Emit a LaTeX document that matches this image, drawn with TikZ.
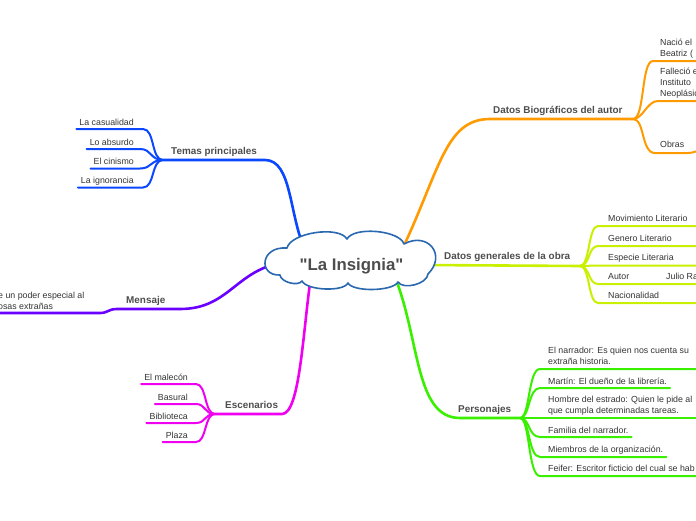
\documentclass[tikz,border=0pt]{standalone}
\usepackage{fontspec}
\setmainfont{Liberation Sans}
\definecolor{cBlue}{HTML}{0A47FF}
\definecolor{cPurple}{HTML}{6A00FF}
\definecolor{cMag}{HTML}{F000F0}
\definecolor{cOrange}{HTML}{FF9A00}
\definecolor{cYel}{HTML}{C8F000}
\definecolor{cGreen}{HTML}{38F000}
\definecolor{cCloud}{HTML}{2A68B0}
\definecolor{cTxt}{HTML}{333333}
\definecolor{cLbl}{HTML}{4D4D4D}
\tikzset{
  subtxt/.style={font=\fontsize{8.8}{10.6}\selectfont, text=cTxt, inner xsep=3pt, inner ysep=0pt, align=left},
  lbltxt/.style={font=\bfseries\fontsize{9.9}{12}\selectfont, text=cLbl, inner sep=0pt},
  mainline/.style={line width=2.6pt, line cap=round},
  subline/.style={line width=2pt, line cap=round},
  cloudline/.style={draw=cCloud, fill=white, line width=1.6pt, line join=round},
  titletxt/.style={font=\bfseries\fontsize{16.8}{20}\selectfont, text=cLbl, inner sep=0pt},
}
\begin{document}
\begin{tikzpicture}[x=1pt,y=-1pt]
\useasboundingbox (0,0) rectangle (696,520);
\clip (0,0) rectangle (696,520);

% anchor points inside the cloud
\coordinate (rB) at (305,250);
\coordinate (rP) at (280,263);
\coordinate (rM) at (311,276);
\coordinate (rO) at (401,252);
\coordinate (rY) at (425,265);
\coordinate (rG) at (395,277);

% ---------- Temas principales (blue)
\coordinate (J1) at (163,160);
\node[lbltxt, anchor=base west] (temas) at (171,154) {Temas principales};
\node[subtxt, anchor=base east] (cas) at (137,125) {La casualidad};
\node[subtxt, anchor=base east] (abs) at (137,145) {Lo absurdo};
\node[subtxt, anchor=base east] (cin) at (137,164.5) {El cinismo};
\node[subtxt, anchor=base east] (ign) at (137,183.5) {La ignorancia};
\coordinate (a1) at (143,129);
\coordinate (a2) at (140,149);
\coordinate (a3) at (140,168.5);
\coordinate (a4) at (143,187.5);
\draw[mainline, cBlue] (rB) .. controls (289,215) and (292,160) .. (265,160) -- (J1);
\draw[subline, cBlue] (J1) .. controls (151,160) and (155,129) .. (a1) -- (cas.west |- a1);
\draw[subline, cBlue] (J1) .. controls (150,160) and (152,149) .. (a2) -- (abs.west |- a2);
\draw[subline, cBlue] (J1) .. controls (150,160) and (152,168.5) .. (a3) -- (cin.west |- a3);
\draw[subline, cBlue] (J1) .. controls (151,160) and (155,187.5) .. (a4) -- (ign.west |- a4);

% ---------- Mensaje (purple)
\node[lbltxt, anchor=base west] (mens) at (126,303) {Mensaje};
\node[subtxt, anchor=base west, font=\fontsize{8.8}{11}\selectfont] (msg) at (-5,309.5) {e un poder especial al\\osas extrañas};
\coordinate (p1) at (180,309);
\coordinate (p2) at (117,309);
\coordinate (p3) at (100,313);
\draw[mainline, cPurple] (rP) .. controls (235,272) and (228,309) .. (p1) -- (p2)
  .. controls (108,309) and (108,313) .. (p3) -- (msg.west |- p3);

% ---------- Escenarios (magenta)
\coordinate (J3) at (215,414);
\node[lbltxt, anchor=base west] (esc) at (225,408) {Escenarios};
\node[subtxt, anchor=base east] (mal) at (191,380) {El malecón};
\node[subtxt, anchor=base east] (bas) at (191,400) {Basural};
\node[subtxt, anchor=base east] (bib) at (191,419) {Biblioteca};
\node[subtxt, anchor=base east] (pla) at (191,438) {Plaza};
\coordinate (m1) at (196,384);
\coordinate (m2) at (196,404);
\coordinate (m3) at (196,423);
\coordinate (m4) at (196,442);
\draw[mainline, cMag] (rM) .. controls (303,330) and (300,414) .. (282,414) -- (J3);
\draw[subline, cMag] (J3) .. controls (204,414) and (207,384) .. (m1) -- (mal.west |- m1);
\draw[subline, cMag] (J3) .. controls (204,414) and (206,404) .. (m2) -- (bas.west |- m2);
\draw[subline, cMag] (J3) .. controls (204,414) and (206,423) .. (m3) -- (bib.west |- m3);
\draw[subline, cMag] (J3) .. controls (204,414) and (207,442) .. (m4) -- (pla.west |- m4);

% ---------- Datos Biograficos del autor (orange)
\coordinate (J4) at (633,119);
\node[lbltxt, anchor=base west] (bio) at (493,113) {Datos Biográficos del autor};
\node[subtxt, anchor=base west] (nac) at (657,56.5) {Nació el\\Beatriz (};
\node[subtxt, anchor=base west] (fal) at (657,96) {Falleció e\\Instituto\\Neoplásic};
\node[subtxt, anchor=base west] (obr) at (657,147) {Obras};
\coordinate (o1) at (653,61);
\coordinate (o2) at (658,101);
\coordinate (o3) at (655,153);
\coordinate (oE1) at (702,61);
\coordinate (oE2) at (702,101);
\coordinate (oE3) at (702,150);
\draw[mainline, cOrange] (rO) .. controls (440,170) and (445,119) .. (490,119) -- (J4);
\draw[subline, cOrange] (J4) .. controls (645,119) and (641,61) .. (o1) -- (oE1);
\draw[subline, cOrange] (J4) .. controls (643,119) and (647,101) .. (o2) -- (oE2);
\draw[subline, cOrange] (J4) .. controls (645,119) and (641,153) .. (o3) -- (688,153) .. controls (693,153) and (696,151) .. (oE3);

% ---------- Datos generales de la obra (yellow-green)
\coordinate (J5) at (580,266);
\node[lbltxt, anchor=base west] (gen) at (444,259.5) {Datos generales de la obra};
\node[subtxt, anchor=base west] (mov) at (605,221) {Movimiento Literario};
\node[subtxt, anchor=base west] (gne) at (605,241) {Genero Literario};
\node[subtxt, anchor=base west] (esp) at (605,260.5) {Especie Literaria};
\node[subtxt, anchor=base west] (aut) at (605,279) {Autor};
\node[subtxt, anchor=base west] (jul) at (663,279) {Julio Ra};
\node[subtxt, anchor=base west] (nacl) at (605,298.5) {Nacionalidad};
\coordinate (y1) at (598,226);
\coordinate (y2) at (598,246);
\coordinate (y3) at (598,265.5);
\coordinate (y4) at (598,284);
\coordinate (y5) at (598,303);
\draw[mainline, cYel] (rY) -- (J5);
\draw[subline, cYel] (J5) .. controls (590,266) and (588,226) .. (y1) -- (702,226);
\draw[subline, cYel] (J5) .. controls (590,266) and (588,246) .. (y2) -- (702,246);
\draw[subline, cYel] (J5) .. controls (590,266) and (588,265.5) .. (y3) -- (702,265.5);
\draw[subline, cYel] (J5) .. controls (590,266) and (588,284) .. (y4) -- (702,284);
\draw[subline, cYel] (J5) .. controls (590,266) and (588,303) .. (y5) -- (702,303);

% ---------- Personajes (green)
\coordinate (J6) at (520,418);
\node[lbltxt, anchor=base west] (pers) at (458,412) {Personajes};
\node[subtxt, anchor=base west] (nar) at (545,364.5) {El narrador: Es quien nos cuenta su\\extraña historia.};
\node[subtxt, anchor=base west] (mar) at (545,384) {Martín: El dueño de la librería.};
\node[subtxt, anchor=base west] (hom) at (545,413.5) {Hombre del estrado: Quien le pide al\\que cumpla determinadas tareas.};
\node[subtxt, anchor=base west] (fam) at (545,433) {Familia del narrador.};
\node[subtxt, anchor=base west] (mie) at (545,452.5) {Miembros de la organización.};
\node[subtxt, anchor=base west] (fei) at (545,471.5) {Feifer: Escritor ficticio del cual se hab};
\coordinate (g1) at (540,369);
\coordinate (g2) at (540,388);
\coordinate (g3) at (540,418);
\coordinate (g4) at (540,437);
\coordinate (g5) at (540,457);
\coordinate (g6) at (540,476);
\draw[mainline, cGreen] (rG) .. controls (420,340) and (415,418) .. (460,418) -- (J6);
\draw[subline, cGreen] (J6) .. controls (530,418) and (528,369) .. (g1) -- (702,369);
\draw[subline, cGreen] (J6) .. controls (530,418) and (528,388) .. (g2) -- (mar.east |- g2);
\draw[subline, cGreen] (J6) -- (g3) -- (702,418);
\draw[subline, cGreen] (J6) .. controls (530,418) and (528,437) .. (g4) -- (fam.east |- g4);
\draw[subline, cGreen] (J6) .. controls (530,418) and (528,457) .. (g5) -- (mie.east |- g5);
\draw[subline, cGreen] (J6) .. controls (530,418) and (528,476) .. (g6) -- (702,476);

% ---------- central cloud
\draw[cloudline] (287,248)
  .. controls (290.8,232.6) and (338.8,225.4) .. (347,239)
  .. controls (353.9,226.2) and (399.5,230.2) .. (404,244)
  .. controls (427.8,231.1) and (447,255.1) .. (428,274)
  .. controls (427.4,283.8) and (403.4,290.2) .. (398,282)
  .. controls (393,291.4) and (353,292.2) .. (348,283)
  .. controls (343.4,292.1) and (306.6,290.5) .. (302,281)
  .. controls (298.1,286.8) and (280.5,282) .. (280,275)
  .. controls (258,276) and (260,246) .. cycle;
\node[titletxt, anchor=base] (root) at (351.5,270) {\textquotedbl La Insignia\textquotedbl};
\end{tikzpicture}
\end{document}
